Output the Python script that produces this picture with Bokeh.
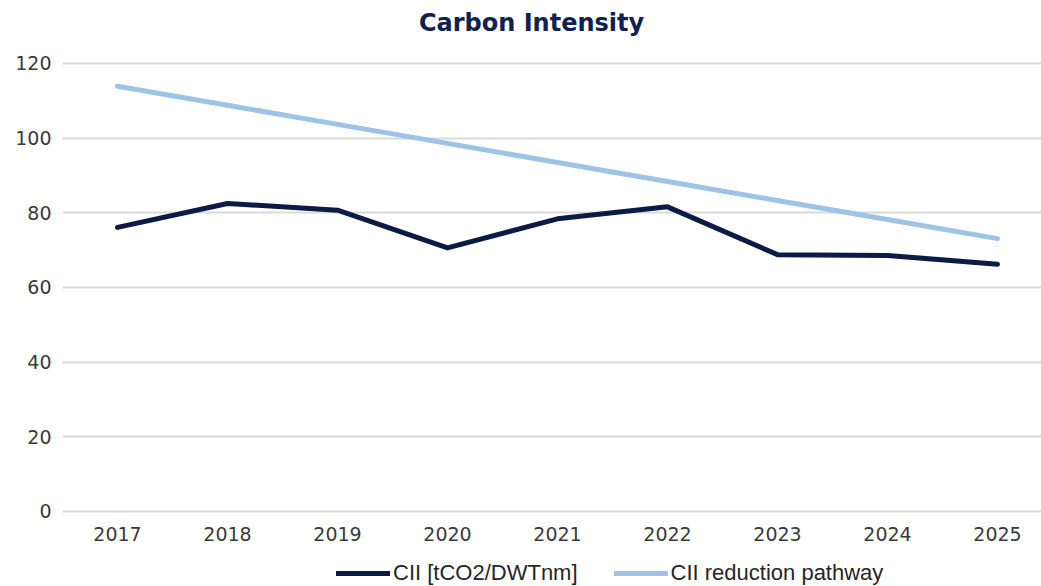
from bokeh.plotting import figure
from bokeh.models import Range1d, FixedTicker, Legend, LegendItem, Label
from bokeh.embed import file_html
from bokeh.resources import INLINE

years = [2017, 2018, 2019, 2020, 2021, 2022, 2023, 2024, 2025]
cii = [76.1, 82.5, 80.7, 70.6, 78.4, 81.6, 68.8, 68.6, 66.2]
pathway = [113.9, 108.8, 103.7, 98.6, 93.5, 88.4, 83.3, 78.2, 73.1]
y_ticks = [0, 20, 40, 60, 80, 100, 120]
series_labels = ["CII [tCO2/DWTnm]", "CII reduction pathway"]
title_text = "Carbon Intensity"

NAVY = "#0C1B45"
LIGHT = "#9DC3E6"

p = figure(width=1041, height=586, output_backend="svg", toolbar_location=None,
           x_range=Range1d(2016.5, 2025.4), y_range=Range1d(-20.09, 136.875),
           min_border_left=62, min_border_right=0, min_border_top=0, min_border_bottom=0)
p.outline_line_color = None
p.background_fill_color = "white"
p.border_fill_color = "white"

r1 = p.line(years, cii, line_color=NAVY, line_width=5, line_cap="round", line_join="round")
r2 = p.line(years, pathway, line_color=LIGHT, line_width=5, line_cap="round", line_join="round")

p.xaxis.ticker = FixedTicker(ticks=years)
p.xaxis.fixed_location = 0
p.yaxis.ticker = FixedTicker(ticks=y_ticks)
for ax in (p.xaxis, p.yaxis):
    ax.axis_line_color = None
    ax.major_tick_line_color = None
    ax.minor_tick_line_color = None
    ax.major_tick_out = 0
    ax.major_tick_in = 0
    ax.minor_tick_out = 0
    ax.minor_tick_in = 0
    ax.major_label_text_font = "DejaVu Sans"
    ax.major_label_text_font_size = "19px"
    ax.major_label_text_color = "#3A3A3A"
p.xaxis.major_label_standoff = 16
p.yaxis.major_label_standoff = 11

p.xgrid.grid_line_color = None
p.ygrid.grid_line_color = "#D9D9D9"
p.ygrid.grid_line_width = 2

title = Label(x=469, y=564, x_units="screen", y_units="screen", text=title_text,
              text_align="center", text_baseline="middle",
              text_font="DejaVu Sans", text_font_size="24px", text_font_style="bold",
              text_color="#0E2150")
p.add_layout(title)

legend = Legend(items=[LegendItem(label=series_labels[0], renderers=[r1]),
                       LegendItem(label=series_labels[1], renderers=[r2])],
                orientation="horizontal", location=(274, 0),
                glyph_width=54, glyph_height=20, label_standoff=3, spacing=36,
                padding=0, margin=0, border_line_color=None, background_fill_alpha=0,
                label_text_font="Liberation Sans", label_text_font_size="22px",
                label_text_color="#262626")
p.add_layout(legend, "center")

open("out.html", "w").write(file_html(p, INLINE))
